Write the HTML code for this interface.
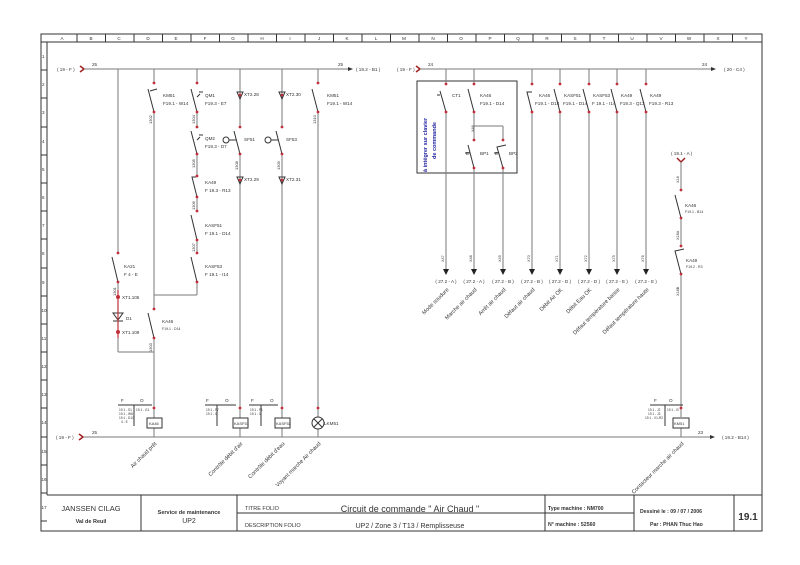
<!DOCTYPE html>
<html><head><meta charset="utf-8"><style>
html,body{margin:0;padding:0;background:#fff}
svg{display:block}
text{font-family:"Liberation Sans",sans-serif;fill:#333}
.s{font-size:4.6px}
.m{font-size:5.5px}
.w{stroke:#7a7a7a;stroke-width:1;fill:none}
.k{stroke:#333;stroke-width:1;fill:none}
.d{fill:#c0303a}
.rl{font-size:5.5px}
</style></head><body>
<svg width="800" height="565" viewBox="0 0 800 565">
<!-- frame -->
<rect x="41" y="34" width="721" height="497" class="k"/>
<line x1="47" y1="42" x2="47" y2="495" class="k"/>
<line x1="41" y1="42" x2="762" y2="42" class="k"/>
<g class="k">
<line x1="77" y1="34" x2="77" y2="42"/><line x1="105.5" y1="34" x2="105.5" y2="42"/><line x1="134" y1="34" x2="134" y2="42"/><line x1="162.5" y1="34" x2="162.5" y2="42"/><line x1="191" y1="34" x2="191" y2="42"/><line x1="219.5" y1="34" x2="219.5" y2="42"/><line x1="248" y1="34" x2="248" y2="42"/><line x1="276.5" y1="34" x2="276.5" y2="42"/><line x1="305" y1="34" x2="305" y2="42"/><line x1="333.5" y1="34" x2="333.5" y2="42"/><line x1="362" y1="34" x2="362" y2="42"/><line x1="390.5" y1="34" x2="390.5" y2="42"/><line x1="419" y1="34" x2="419" y2="42"/><line x1="447.5" y1="34" x2="447.5" y2="42"/><line x1="476" y1="34" x2="476" y2="42"/><line x1="504.5" y1="34" x2="504.5" y2="42"/><line x1="533" y1="34" x2="533" y2="42"/><line x1="561.5" y1="34" x2="561.5" y2="42"/><line x1="590" y1="34" x2="590" y2="42"/><line x1="618.5" y1="34" x2="618.5" y2="42"/><line x1="647" y1="34" x2="647" y2="42"/><line x1="675.5" y1="34" x2="675.5" y2="42"/><line x1="704" y1="34" x2="704" y2="42"/><line x1="732.5" y1="34" x2="732.5" y2="42"/>
</g>
<g class="s" text-anchor="middle">
<text x="62" y="40">A</text><text x="91" y="40">B</text><text x="119" y="40">C</text><text x="148" y="40">D</text><text x="176" y="40">E</text><text x="205" y="40">F</text><text x="233" y="40">G</text><text x="262" y="40">H</text><text x="290" y="40">I</text><text x="319" y="40">J</text><text x="347" y="40">K</text><text x="376" y="40">L</text><text x="404" y="40">M</text><text x="433" y="40">N</text><text x="461" y="40">O</text><text x="490" y="40">P</text><text x="518" y="40">Q</text><text x="547" y="40">R</text><text x="575" y="40">S</text><text x="604" y="40">T</text><text x="632" y="40">U</text><text x="661" y="40">V</text><text x="689" y="40">W</text><text x="718" y="40">X</text><text x="746" y="40">Y</text>
</g>
<g class="k">
<line x1="41" y1="70" x2="47" y2="70"/><line x1="41" y1="98" x2="47" y2="98"/><line x1="41" y1="127" x2="47" y2="127"/><line x1="41" y1="155" x2="47" y2="155"/><line x1="41" y1="183" x2="47" y2="183"/><line x1="41" y1="211" x2="47" y2="211"/><line x1="41" y1="239" x2="47" y2="239"/><line x1="41" y1="268" x2="47" y2="268"/><line x1="41" y1="296" x2="47" y2="296"/><line x1="41" y1="324" x2="47" y2="324"/><line x1="41" y1="352" x2="47" y2="352"/><line x1="41" y1="380" x2="47" y2="380"/><line x1="41" y1="408" x2="47" y2="408"/><line x1="41" y1="437" x2="47" y2="437"/><line x1="41" y1="465" x2="47" y2="465"/><line x1="41" y1="493" x2="47" y2="493"/><line x1="41" y1="521" x2="47" y2="521"/>
</g>
<g class="s">
<text x="42" y="58">1</text><text x="42" y="86">2</text><text x="42" y="114">3</text><text x="42" y="143">4</text><text x="42" y="171">5</text><text x="42" y="199">6</text><text x="42" y="227">7</text><text x="42" y="255">8</text><text x="42" y="284">9</text><text x="41.5" y="312">10</text><text x="41.5" y="340">11</text><text x="41.5" y="368">12</text><text x="41.5" y="396">13</text><text x="41.5" y="424">14</text><text x="41.5" y="453">15</text><text x="41.5" y="481">16</text><text x="41.5" y="509">17</text>
</g>

<!-- title block -->
<g class="k">
<line x1="47" y1="495" x2="762" y2="495"/>
<line x1="141" y1="495" x2="141" y2="531"/>
<line x1="237" y1="495" x2="237" y2="531"/>
<line x1="545" y1="495" x2="545" y2="531"/>
<line x1="634" y1="495" x2="634" y2="531"/>
<line x1="734" y1="495" x2="734" y2="531"/>
<line x1="237" y1="513" x2="634" y2="513"/>
</g>
<text x="91" y="511" text-anchor="middle" style="font-size:7.5px">JANSSEN  CILAG</text>
<text x="91" y="523" text-anchor="middle" style="font-size:5.5px;font-weight:bold">Val de Reuil</text>
<text x="189" y="514" text-anchor="middle" style="font-size:5.5px;font-weight:bold">Service de maintenance</text>
<text x="189" y="523" text-anchor="middle" style="font-size:7px">UP2</text>
<text x="245" y="510" style="font-size:5.5px">TITRE FOLIO</text>
<text x="410" y="512" text-anchor="middle" style="font-size:9px">Circuit de commande " Air Chaud "</text>
<text x="245" y="527" style="font-size:5.5px">DESCRIPTION FOLIO</text>
<text x="410" y="528" text-anchor="middle" style="font-size:7px">UP2 / Zone 3 / T13 /  Remplisseuse</text>
<text x="548" y="510" style="font-size:5.2px;font-weight:bold">Type machine : NM700</text>
<text x="548" y="526" style="font-size:5.2px;font-weight:bold">N° machine   :  52560</text>
<text x="640" y="513" style="font-size:5.2px;font-weight:bold">Dessiné le : 09 / 07 / 2006</text>
<text x="650" y="526" style="font-size:5.2px;font-weight:bold">Par : PHAN Thuc Hao</text>
<text x="748" y="520" text-anchor="middle" style="font-size:10px;font-weight:bold">19.1</text>

<!-- top-left bus -->
<text x="57" y="71" class="s">( 19 - F )</text>
<path d="M80 66 L84 69 L80 72" stroke="#a02020" stroke-width="1.5" fill="none"/>
<line x1="84" y1="69" x2="348" y2="69" class="w"/>
<polygon points="348,67 353,69 348,71" fill="#333"/>
<text x="92" y="66" class="s">25</text><text x="338" y="66" class="s">25</text>
<text x="356" y="71" class="s">( 19.2 - B1 )</text>

<!-- bottom bus -->
<text x="56" y="439" class="s">( 19 - F )</text>
<path d="M79 434 L83 437 L79 440" stroke="#a02020" stroke-width="1.5" fill="none"/>
<line x1="84" y1="437" x2="710" y2="437" class="w"/>
<polygon points="710,435 715,437 710,439" fill="#333"/>
<text x="92" y="434" class="s">25</text><text x="698" y="434" class="s">23</text>
<text x="722" y="439" class="s">( 19.2 - B14 )</text>

<!-- vertical wires left -->
<g class="w">
<line x1="118" y1="69" x2="118" y2="253"/><line x1="118" y1="282" x2="118" y2="352"/><line x1="118" y1="352" x2="154" y2="352"/>
<line x1="154" y1="69" x2="154" y2="83"/><line x1="154" y1="112" x2="154" y2="309"/><line x1="154" y1="338" x2="154" y2="437"/>
<line x1="154" y1="295" x2="197" y2="295"/>
<line x1="197" y1="69" x2="197" y2="83"/><line x1="197" y1="112" x2="197" y2="127"/><line x1="197" y1="154" x2="197" y2="176"/><line x1="197" y1="197" x2="197" y2="211"/><line x1="197" y1="240" x2="197" y2="253"/><line x1="197" y1="282" x2="197" y2="295"/>
<line x1="240" y1="69" x2="240" y2="127"/><line x1="240" y1="154" x2="240" y2="437"/>
<line x1="282" y1="69" x2="282" y2="127"/><line x1="282" y1="154" x2="282" y2="437"/>
<line x1="318" y1="69" x2="318" y2="83"/><line x1="318" y1="112" x2="318" y2="417"/><line x1="318" y1="429" x2="318" y2="437"/>
</g>
<!-- blades -->
<g class="k" stroke-width="0.8">
<path d="M154 112 L148 89 M150 91 L157 89"/>
<path d="M197 112 L191 89 M197 97 L200 94 M199 92 L203 92"/>
<path d="M197 154 L191 131 M197 140 L200 137 M199 135 L203 135"/>
<path d="M197 197 L192 177 L196 177"/>
<path d="M197 240 L191 215"/>
<path d="M197 282 L191 257"/>
<path d="M240 154 L234 131"/><circle cx="226" cy="140" r="3"/><line x1="229" y1="140" x2="236" y2="140"/>
<path d="M282 154 L276 131"/><circle cx="268" cy="140" r="3"/><line x1="271" y1="140" x2="278" y2="140"/>
<path d="M318 112 L312 89"/>
<path d="M118 282 L112 257"/>
<path d="M154 338 L148 313"/>
<path d="M237 92 L243 92 L240 99 Z M237 177 L243 177 L240 184 Z M279 92 L285 92 L282 99 Z M279 177 L285 177 L282 184 Z"/>
<path d="M113 313 L123 313 L118 320 Z M113 321 L123 321"/>
</g>
<g class="d">
<circle cx="154" cy="83" r="1.4"/><circle cx="154" cy="112" r="1.4"/><circle cx="154" cy="309" r="1.4"/><circle cx="154" cy="338" r="1.4"/><circle cx="154" cy="408" r="1.4"/>
<circle cx="197" cy="83" r="1.4"/><circle cx="197" cy="112" r="1.4"/><circle cx="197" cy="127" r="1.4"/><circle cx="197" cy="154" r="1.4"/><circle cx="197" cy="176" r="1.4"/><circle cx="197" cy="197" r="1.4"/><circle cx="197" cy="211" r="1.4"/><circle cx="197" cy="240" r="1.4"/><circle cx="197" cy="253" r="1.4"/><circle cx="197" cy="282" r="1.4"/>
<circle cx="240" cy="95" r="1.4"/><circle cx="240" cy="127" r="1.4"/><circle cx="240" cy="154" r="1.4"/><circle cx="240" cy="180" r="1.4"/><circle cx="240" cy="408" r="1.4"/>
<circle cx="282" cy="95" r="1.4"/><circle cx="282" cy="127" r="1.4"/><circle cx="282" cy="154" r="1.4"/><circle cx="282" cy="180" r="1.4"/><circle cx="282" cy="408" r="1.4"/>
<circle cx="318" cy="83" r="1.4"/><circle cx="318" cy="112" r="1.4"/><circle cx="318" cy="408" r="1.4"/>
<circle cx="118" cy="253" r="1.4"/><circle cx="118" cy="282" r="1.4"/><circle cx="118" cy="297" r="2"/><circle cx="118" cy="332" r="2"/>
</g>
<line x1="118" y1="290" x2="118" y2="338" stroke="#c0303a" stroke-width="1.2"/>
<g class="s">
<text x="163" y="97">KM51</text><text x="163" y="105">F19.1 - W14</text>
<text x="205" y="97">QM1</text><text x="205" y="105">F19.3 - E7</text>
<text x="205" y="140">QM2</text><text x="205" y="148">F19.3 - D7</text>
<text x="205" y="184">KA49</text><text x="205" y="192">F 19.3 - R13</text>
<text x="205" y="227">KASF51</text><text x="205" y="235">F 19.1 - D14</text>
<text x="205" y="268">KASF53</text><text x="205" y="276">F 19.1 - I14</text>
<text x="244" y="96">XT2.28</text><text x="244" y="141">SF51</text><text x="244" y="181">XT2.29</text>
<text x="286" y="96">XT2.30</text><text x="286" y="141">SF53</text><text x="286" y="181">XT2.31</text>
<text x="327" y="97">KM51</text><text x="327" y="105">F19.1 - W14</text>
<text x="124" y="268">KA21</text><text x="124" y="276">F 4 - E</text>
<text x="122" y="299">XT1.105</text><text x="126" y="320">D1</text><text x="122" y="334">XT1.109</text>
<text x="162" y="323">KA46</text><text x="162" y="330" style="font-size:3.5px">F19.1 - D14</text>
<text x="324" y="425">LKM51</text>
</g>
<g class="s" style="font-size:4px">
<text transform="translate(152,124) rotate(-90)">1302</text>
<text transform="translate(195,124) rotate(-90)">1304</text>
<text transform="translate(195,168) rotate(-90)">1305</text>
<text transform="translate(195,210) rotate(-90)">1306</text>
<text transform="translate(195,252) rotate(-90)">1307</text>
<text transform="translate(238,170) rotate(-90)">1308</text>
<text transform="translate(280,170) rotate(-90)">1309</text>
<text transform="translate(316,124) rotate(-90)">1310</text>
<text transform="translate(116,296) rotate(-90)">1301</text>
<text transform="translate(152,352) rotate(-90)">1303</text>
</g>
<!-- coils / tables -->
<g class="k" stroke-width="0.7">
<rect x="147" y="418" width="15" height="10" fill="#fff"/>
<rect x="233" y="418" width="15" height="10" fill="#fff"/>
<rect x="275" y="418" width="15" height="10" fill="#fff"/>
<circle cx="318" cy="423" r="6" fill="#fff"/><path d="M314 419 L322 427 M322 419 L314 427"/>
<line x1="118" y1="405" x2="152" y2="405"/><line x1="134" y1="405" x2="134" y2="426"/>
<line x1="205" y1="405" x2="236" y2="405"/><line x1="217" y1="405" x2="217" y2="426"/>
<line x1="249" y1="405" x2="278" y2="405"/><line x1="261" y1="405" x2="261" y2="426"/>
</g>
<g class="s">
<text x="121" y="402">F</text><text x="140" y="402">O</text>
<text x="206" y="402">F</text><text x="225" y="402">O</text>
<text x="251" y="402">F</text><text x="270" y="402">O</text>
<text x="149" y="425" style="font-size:4px">KA46</text><text x="234" y="425" style="font-size:4px">KASF51</text><text x="276" y="425" style="font-size:4px">KASF53</text>
</g>
<g style="font-size:3.2px">
<text x="119" y="411">19.1 - S1</text><text x="119" y="415">19.1 - W8</text><text x="119" y="419">19.1 - D10</text><text x="121" y="423">4 - E</text><text x="136" y="411">19.1 - G1</text>
<text x="206" y="411">19.1 - F7</text><text x="206" y="415">19.1 - I2</text>
<text x="250" y="411">19.1 - F1</text><text x="250" y="415">19.1 - I2</text>
</g>

<!-- right top bus -->
<text x="397" y="71" class="s">( 19 - F )</text>
<path d="M416 66 L420 69 L416 72" stroke="#a02020" stroke-width="1.5" fill="none"/>
<line x1="420" y1="69" x2="711" y2="69" class="w"/>
<polygon points="711,67 716,69 711,71" fill="#333"/>
<text x="428" y="66" class="s">24</text><text x="702" y="66" class="s">24</text>
<text x="724" y="71" class="s">( 20 - C4 )</text>

<rect x="417" y="81" width="100" height="92" class="k" stroke-width="0.8"/>
<text transform="translate(427,172) rotate(-90)" style="font-size:5.5px;fill:#2020a0;font-weight:bold">à intégrer sur clavier</text>
<text transform="translate(436,159) rotate(-90)" style="font-size:5.5px;fill:#2020a0;font-weight:bold">de commande</text>

<g class="w">
<line x1="446" y1="69" x2="446" y2="84"/><line x1="446" y1="112" x2="446" y2="270"/>
<line x1="474" y1="69" x2="474" y2="84"/><line x1="474" y1="112" x2="474" y2="140"/><line x1="474" y1="168" x2="474" y2="270"/>
<line x1="474" y1="126" x2="503" y2="126"/><line x1="503" y1="126" x2="503" y2="140"/><line x1="503" y1="168" x2="503" y2="270"/>
<line x1="532" y1="69" x2="532" y2="84"/><line x1="532" y1="112" x2="532" y2="270"/>
<line x1="560" y1="69" x2="560" y2="84"/><line x1="560" y1="112" x2="560" y2="270"/>
<line x1="589" y1="69" x2="589" y2="84"/><line x1="589" y1="112" x2="589" y2="270"/>
<line x1="617" y1="69" x2="617" y2="84"/><line x1="617" y1="112" x2="617" y2="270"/>
<line x1="646" y1="69" x2="646" y2="84"/><line x1="646" y1="112" x2="646" y2="270"/>
</g>
<g class="k" stroke-width="0.8">
<path d="M446 112 L440 91 M440 95 L437 95"/>
<path d="M474 112 L468 89"/>
<path d="M474 168 L468 145 M470 153 L465 153"/>
<path d="M503 168 L497 147 L506 145 M499 153 L494 153"/>
<path d="M532 112 L527 92 L532 92"/>
<path d="M560 112 L554 89"/><path d="M589 112 L583 89"/><path d="M617 112 L611 89"/><path d="M646 112 L640 89"/>
</g>
<g fill="#222">
<polygon points="443,269 449,269 446,275"/><polygon points="471,269 477,269 474,275"/><polygon points="500,269 506,269 503,275"/><polygon points="529,269 535,269 532,275"/><polygon points="557,269 563,269 560,275"/><polygon points="586,269 592,269 589,275"/><polygon points="614,269 620,269 617,275"/><polygon points="643,269 649,269 646,275"/>
</g>
<g class="d">
<circle cx="446" cy="84" r="1.4"/><circle cx="446" cy="112" r="1.4"/><circle cx="474" cy="84" r="1.4"/><circle cx="474" cy="112" r="1.4"/><circle cx="474" cy="140" r="1.4"/><circle cx="474" cy="168" r="1.4"/><circle cx="503" cy="140" r="1.4"/><circle cx="503" cy="168" r="1.4"/>
<circle cx="532" cy="84" r="1.4"/><circle cx="532" cy="112" r="1.4"/><circle cx="560" cy="84" r="1.4"/><circle cx="560" cy="112" r="1.4"/><circle cx="589" cy="84" r="1.4"/><circle cx="589" cy="112" r="1.4"/><circle cx="617" cy="84" r="1.4"/><circle cx="617" cy="112" r="1.4"/><circle cx="646" cy="84" r="1.4"/><circle cx="646" cy="112" r="1.4"/>
</g>
<g class="s">
<text x="452" y="97">CT1</text>
<text x="480" y="97">KA46</text><text x="480" y="105">F19.1 - D14</text>
<text x="466" y="155">E</text><text x="480" y="155">BP1</text>
<text x="495" y="155">E</text><text x="509" y="155">BP2</text>
<text x="539" y="97">KA46</text><text x="535" y="105">F19.1 - D14</text>
<text x="564" y="97">KASF51</text><text x="563" y="105">F19.1 - D14</text>
<text x="593" y="97">KASF53</text><text x="592" y="105">F 19.1 - I14</text>
<text x="621" y="97">KA49</text><text x="620" y="105">F19.3 - Q13</text>
<text x="650" y="97">KA49</text><text x="649" y="105">F19.3 - R13</text>
</g>
<g style="font-size:3.8px">
<text transform="translate(444,262) rotate(-90)">X47</text><text transform="translate(472,262) rotate(-90)">X48</text><text transform="translate(501,262) rotate(-90)">X49</text><text transform="translate(530,262) rotate(-90)">X70</text><text transform="translate(558,262) rotate(-90)">X71</text><text transform="translate(587,262) rotate(-90)">X72</text><text transform="translate(615,262) rotate(-90)">X75</text><text transform="translate(644,262) rotate(-90)">X76</text>
<text transform="translate(474,132) rotate(-90)">X46</text>
</g>
<g class="s" text-anchor="middle">
<text x="446" y="283">( 27.2 - A )</text><text x="474" y="283">( 27.2 - A )</text><text x="503" y="283">( 27.2 - B )</text><text x="532" y="283">( 27.2 - B )</text><text x="560" y="283">( 27.2 - D )</text><text x="589" y="283">( 27.2 - D )</text><text x="617" y="283">( 27.2 - E )</text><text x="646" y="283">( 27.2 - E )</text>
</g>
<g class="m" text-anchor="end">
<text transform="translate(449,290) rotate(-45)">Mode soudure</text>
<text transform="translate(477,290) rotate(-45)">Marche air chaud</text>
<text transform="translate(506,290) rotate(-45)">Arrêt air chaud</text>
<text transform="translate(535,290) rotate(-45)">Défaut air chaud</text>
<text transform="translate(563,290) rotate(-45)">Débit Air OK</text>
<text transform="translate(592,290) rotate(-45)">Débit Eau OK</text>
<text transform="translate(620,290) rotate(-45)">Défaut température basse</text>
<text transform="translate(649,290) rotate(-45)">Défaut température haute</text>
</g>

<!-- right circuit -->
<text x="671" y="155" class="s">( 19.1 - A )</text>
<path d="M677 158 L681 162 L685 158" stroke="#a02020" stroke-width="1.5" fill="none"/>
<g class="w">
<line x1="681" y1="162" x2="681" y2="190"/><line x1="681" y1="218" x2="681" y2="246"/><line x1="681" y1="274" x2="681" y2="417"/><line x1="681" y1="428" x2="681" y2="437"/>
</g>
<g class="k" stroke-width="0.8"><path d="M681 218 L675 195"/><path d="M681 274 L675 251 L684 249"/>
<rect x="673" y="418" width="16" height="10" fill="#fff"/>
<line x1="650" y1="405" x2="683" y2="405"/><line x1="665" y1="405" x2="665" y2="426"/></g>
<g class="d"><circle cx="681" cy="190" r="1.4"/><circle cx="681" cy="218" r="1.4"/><circle cx="681" cy="246" r="1.4"/><circle cx="681" cy="274" r="1.4"/><circle cx="681" cy="408" r="1.4"/></g>
<g class="s">
<text x="685" y="207">KA46</text><text x="685" y="213" style="font-size:3.5px">F19.1 - B14</text>
<text x="686" y="262">KA49</text><text x="686" y="268" style="font-size:3.5px">F19.2 - R3</text>
<text x="654" y="402">F</text><text x="669" y="402">O</text>
<text x="674" y="425" style="font-size:4px">KM51</text>
</g>
<g style="font-size:3.2px"><text x="648" y="411">19.1 - J2</text><text x="648" y="415">19.1 - J3</text><text x="645" y="419">19.1 - V1-R2</text><text x="667" y="411">19.1 - I3</text></g>
<g style="font-size:3.8px"><text transform="translate(679,183) rotate(-90)">X18</text><text transform="translate(679,240) rotate(-90)">X18A</text><text transform="translate(679,296) rotate(-90)">X18B</text></g>

<!-- bottom labels -->
<g class="m" text-anchor="end">
<text transform="translate(157,444) rotate(-45)">Air chaud prêt</text>
<text transform="translate(243,444) rotate(-45)">Contrôle débit d'air</text>
<text transform="translate(285,444) rotate(-45)">Contrôle débit d'eau</text>
<text transform="translate(321,444) rotate(-45)">Voyant marche Air chaud</text>
<text transform="translate(684,444) rotate(-45)">Contacteur marche air chaud</text>
</g>
</svg>
</body></html>
